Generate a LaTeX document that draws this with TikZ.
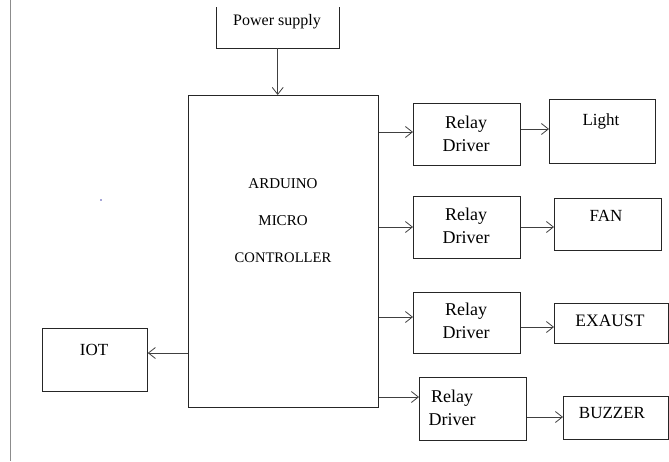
\documentclass[tikz,border=0pt]{standalone}
\usepackage{fontspec}
\setmainfont{Liberation Serif}
\usetikzlibrary{arrows.meta}
\begin{document}
\begin{tikzpicture}[x=1pt,y=-1pt,
  box/.style={draw=black!85,line width=0.8pt,inner sep=0pt,anchor=north west},
  txt/.style={inner sep=0pt,font=\fontsize{17}{20}\selectfont},
  conn/.style={draw=black!75,line width=0.8pt,-{Straight Barb[length=7pt,width=11pt]}}]
\useasboundingbox (0,0) rectangle (669,461);
\fill[white] (0,0) rectangle (669,461);
% page edge line and speck
\draw[black!45,line width=0.8pt] (10,0) -- (10,461);
\fill[blue!40!gray] (101,200) circle (0.8);
% power supply (open top)
\node[inner sep=0pt,minimum width=123pt,minimum height=41pt,anchor=north west] (ps) at (216,7) {};
\draw[black!85,line width=0.8pt] (ps.north west) -- (ps.south west) -- (ps.south east) -- (ps.north east);
\node[txt,font=\fontsize{16}{19}\selectfont] (pst) at (277,22) {Power supply};
% controller
\node[box,minimum width=190pt,minimum height=312pt] (ctl) at (188,95) {};
\node[txt,font=\fontsize{15}{18}\selectfont] (c1) at (283,184) {ARDUINO};
\node[txt,font=\fontsize{15}{18}\selectfont] (c2) at (283,221) {MICRO};
\node[txt,font=\fontsize{14.6}{18}\selectfont] (c3) at (283,258) {CONTROLLER};
% relay drivers
\node[box,minimum width=107pt,minimum height=62pt] (r1) at (413,103) {};
\node[txt,font=\fontsize{18}{21}\selectfont,align=center] (r1t) at (466,134) {Relay\\[2pt]Driver};
\node[box,minimum width=107pt,minimum height=62pt] (r2) at (413,196) {};
\node[txt,font=\fontsize{18}{21}\selectfont,align=center] (r2t) at (466,226) {Relay\\[2pt]Driver};
\node[box,minimum width=107pt,minimum height=61pt] (r3) at (413,292) {};
\node[txt,font=\fontsize{18}{21}\selectfont,align=center] (r3t) at (466,321) {Relay\\[2pt]Driver};
\node[box,minimum width=107pt,minimum height=63pt] (r4) at (419,377) {};
\node[txt,font=\fontsize{18}{21}\selectfont,align=center] (r4t) at (452,408) {Relay\\[2pt]Driver};
% loads
\node[box,minimum width=106pt,minimum height=64pt] (lt) at (549,99) {};
\node[txt,font=\fontsize{17}{20}\selectfont] (ltt) at (601,121) {Light};
\node[box,minimum width=107pt,minimum height=52pt] (fan) at (554,198) {};
\node[txt,font=\fontsize{17}{20}\selectfont] (fant) at (606,216) {FAN};
\node[box,minimum width=114pt,minimum height=40pt] (ex) at (554,303) {};
\node[txt,font=\fontsize{17.5}{20}\selectfont] (ext) at (610,321) {EXAUST};
\node[box,minimum width=105pt,minimum height=43pt] (bz) at (563,396) {};
\node[txt,font=\fontsize{17}{20}\selectfont] (bzt) at (612,413) {BUZZER};
% IOT
\node[box,minimum width=105pt,minimum height=63pt] (iot) at (42,328) {};
\node[txt,font=\fontsize{17}{20}\selectfont] (iott) at (94,350) {IOT};
% connectors
\draw[conn] (ps.south) -- (ctl.north -| ps.south);
\draw[conn] (ctl.east |- 0,132) -- (r1.west |- 0,132);
\draw[conn] (ctl.east |- 0,227) -- (r2.west |- 0,227);
\draw[conn] (ctl.east |- 0,317) -- (r3.west |- 0,317);
\draw[conn] (ctl.east |- 0,397) -- (r4.west |- 0,397);
\draw[conn] (r1.east |- 0,129) -- (lt.west |- 0,129);
\draw[conn] (r2.east |- 0,227) -- (fan.west |- 0,227);
\draw[conn] (r3.east |- 0,327) -- (ex.west |- 0,327);
\draw[conn] (r4.east |- 0,417) -- (bz.west |- 0,417);
\draw[conn] (ctl.west |- 0,353) -- (iot.east |- 0,353);
\end{tikzpicture}
\end{document}
